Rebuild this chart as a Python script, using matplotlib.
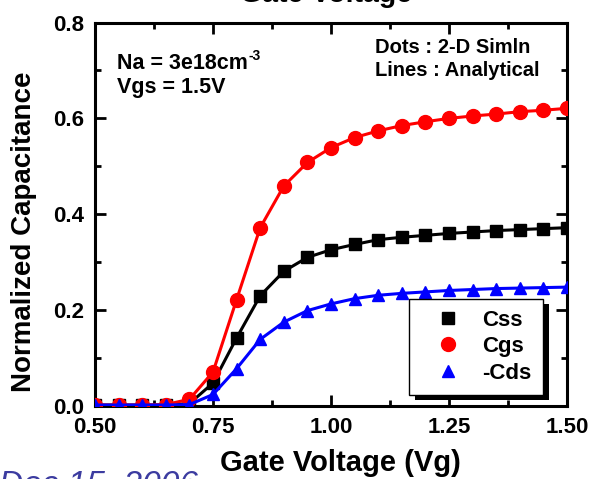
import matplotlib
matplotlib.use('Agg')
import matplotlib.pyplot as plt
import matplotlib.patheffects as pe
from matplotlib.lines import Line2D
from matplotlib.ticker import MultipleLocator

# Data section
vg = [0.50, 0.55, 0.60, 0.65, 0.70, 0.75, 0.80, 0.85, 0.90, 0.95, 1.00,
      1.05, 1.10, 1.15, 1.20, 1.25, 1.30, 1.35, 1.40, 1.45, 1.50]
css = [0.002, 0.002, 0.002, 0.002, 0.005, 0.048, 0.142, 0.230, 0.281, 0.310, 0.326,
       0.337, 0.347, 0.352, 0.356, 0.360, 0.363, 0.366, 0.368, 0.370, 0.372]
cgs = [0.002, 0.002, 0.002, 0.003, 0.014, 0.071, 0.222, 0.372, 0.459, 0.508, 0.539,
       0.560, 0.574, 0.585, 0.593, 0.600, 0.605, 0.609, 0.614, 0.617, 0.621]
cds = [0.002, 0.002, 0.002, 0.002, 0.003, 0.024, 0.078, 0.139, 0.175, 0.199, 0.213,
       0.224, 0.231, 0.235, 0.238, 0.241, 0.243, 0.245, 0.246, 0.247, 0.248]

labels = ['Css', 'Cgs', '-Cds']
colors = ['black', '#ff0000', '#0000ff']
markers = ['s', 'o', '^']

plt.rcParams['font.family'] = ['Liberation Sans', 'DejaVu Sans']
plt.rcParams['font.weight'] = 'bold'

fig = plt.figure(figsize=(5.92, 4.79), dpi=100)
ax = fig.add_axes([0.1605, 0.1524, 0.7973, 0.8006])

series = [css, cgs, cds]
sizes = [8, 10, 9]
for y, c, m, s in zip(series, colors, markers, sizes):
    ax.plot(vg, y, color=c, marker=m, markersize=s, linewidth=2.2, zorder=3)

ax.set_xlim(0.5, 1.5)
ax.set_ylim(0.0, 0.8)
ax.xaxis.set_major_locator(MultipleLocator(0.25))
ax.xaxis.set_minor_locator(MultipleLocator(0.125))
ax.yaxis.set_major_locator(MultipleLocator(0.2))
ax.yaxis.set_minor_locator(MultipleLocator(0.1))
ax.xaxis.set_major_formatter(plt.FormatStrFormatter('%.2f'))
ax.yaxis.set_major_formatter(plt.FormatStrFormatter('%.1f'))
ax.tick_params(which='both', direction='in', top=True, right=True, width=2)
ax.tick_params(which='major', length=8, labelsize=16, pad=8)
ax.tick_params(which='minor', length=4.5)
for sp in ax.spines.values():
    sp.set_linewidth(2.2)

ax.set_xlabel('Gate Voltage (Vg)', fontsize=21, fontweight='bold')
ax.set_ylabel('Normalized Capacitance', fontsize=20, fontweight='bold')
ax.xaxis.set_label_coords(0.519, -0.112)
ax.yaxis.set_label_coords(-0.123, 0.455)

t_na = ax.text(0.047, 0.893, 'Na = 3e18cm', transform=ax.transAxes,
               fontsize=15.5, fontweight='bold', va='center')
ax.annotate('-3', xy=(1, 0.88), xycoords=t_na, fontsize=10, fontweight='bold',
            ha='left', va='center')
ax.text(0.047, 0.830, 'Vgs = 1.5V', transform=ax.transAxes,
        fontsize=15.5, fontweight='bold', va='center')
ax.text(0.593, 0.936, 'Dots : 2-D Simln', transform=ax.transAxes,
        fontsize=14.5, fontweight='bold', va='center')
ax.text(0.593, 0.874, 'Lines : Analytical', transform=ax.transAxes,
        fontsize=14.5, fontweight='bold', va='center')

handles = [Line2D([], [], color=c, marker=m, linestyle='none', markersize=s)
           for c, m, s in zip(colors, markers, sizes)]
leg = ax.legend(handles, labels, loc='lower right', bbox_to_anchor=(0.949, 0.029),
                fontsize=16, frameon=True, fancybox=False, edgecolor='black',
                framealpha=1, borderpad=0.5, handlelength=2.5,
                handletextpad=0.3, labelspacing=0.25, borderaxespad=0)
frame = leg.get_frame()
frame.set_linewidth(1)
frame.set_path_effects([pe.SimplePatchShadow(offset=(4, -4), shadow_rgbFace='black',
                                             alpha=1), pe.Normal()])

# cut-off page texts
fig.text(0.55, 0.996, 'Gate Voltage', fontsize=20.5, fontweight='bold',
         ha='center', va='baseline')
fig.text(-0.002, -0.03, 'Dec 15, 2006', fontsize=24, fontweight='normal',
         style='italic', color='#3c3ca0', ha='left', va='baseline')

fig.savefig('out.png', dpi=100)
